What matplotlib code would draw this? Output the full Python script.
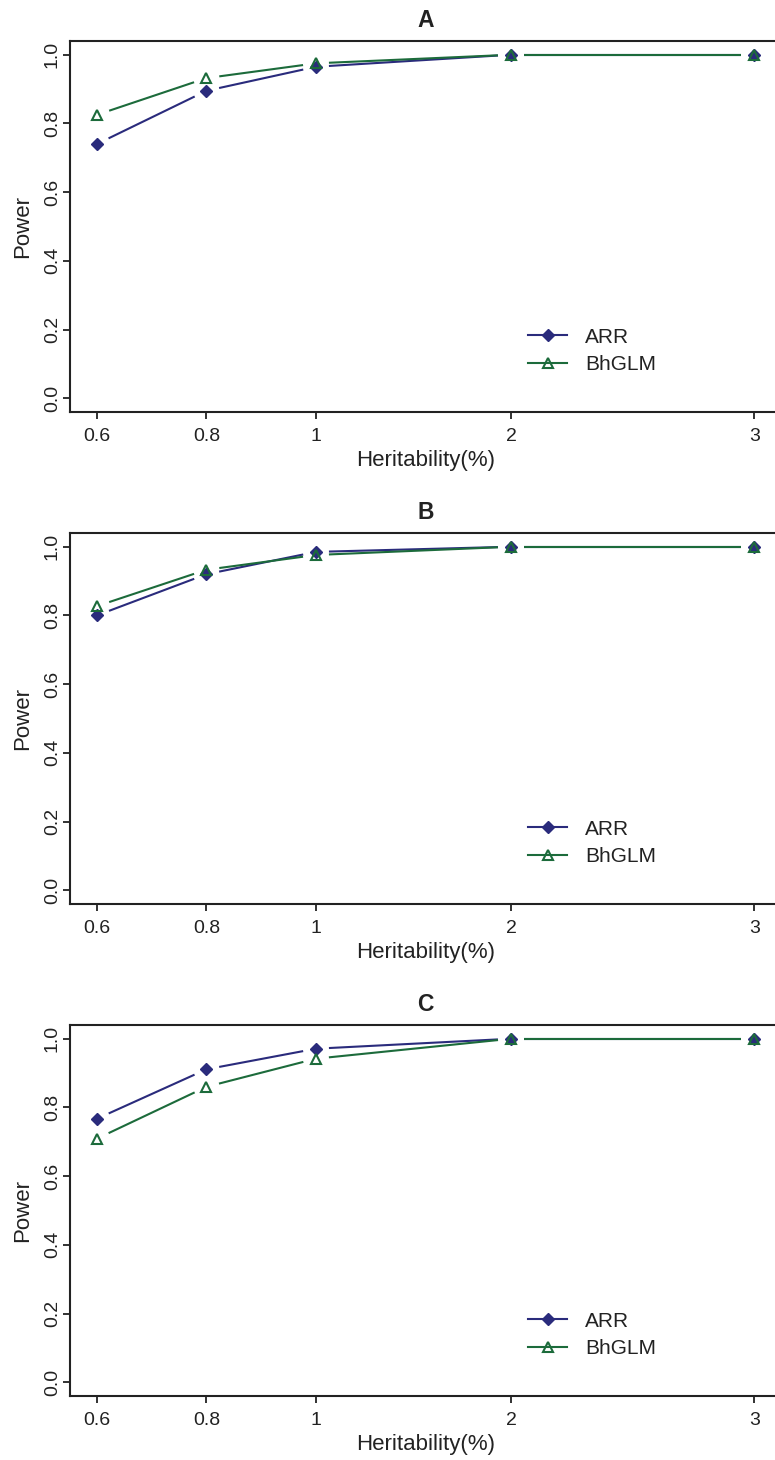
import numpy as np
import matplotlib
matplotlib.use('Agg')
import matplotlib.pyplot as plt
from matplotlib.lines import Line2D

plt.rcParams['font.family'] = ['Liberation Sans', 'DejaVu Sans']

# x axis categories (heritability, %) and their slot on the axis
heritability = ['0.6', '0.8', '1', '2', '3']
x_slots = [0, 1, 2, 3.78, 6]

panels = ['A', 'B', 'C']
arr_a = [0.740, 0.895, 0.965, 1.0, 1.0]
bhglm_a = [0.825, 0.932, 0.975, 1.0, 1.0]
arr_b = [0.800, 0.920, 0.985, 1.0, 1.0]
bhglm_b = [0.827, 0.933, 0.976, 1.0, 1.0]
arr_c = [0.767, 0.911, 0.971, 1.0, 1.0]
bhglm_c = [0.709, 0.860, 0.942, 1.0, 1.0]

ARR_COL = '#2a2b7c'
BH_COL = '#1c6b3b'
GAP = 13  # px, like R type="b"
W, H = 775, 1460


def gapped_line(ax, x, y, color):
    # draw segments between points leaving a gap around each point
    pts = ax.transData.transform(np.column_stack([x, y]))
    inv = ax.transData.inverted()
    for i in range(len(pts) - 1):
        p0, p1 = pts[i], pts[i + 1]
        d = p1 - p0
        L = np.hypot(*d)
        if L <= 2 * GAP:
            continue
        u = d / L
        seg = inv.transform([p0 + u * GAP, p1 - u * GAP])
        ax.plot(seg[:, 0], seg[:, 1], color=color, lw=1.5,
                solid_capstyle='butt', zorder=2)


fig = plt.figure(figsize=(W / 100, H / 100), dpi=100)

tops = [41, 533, 1025]
series = [(arr_a, bhglm_a), (arr_b, bhglm_b), (arr_c, bhglm_c)]

for name, top, (arr, bh) in zip(panels, tops, series):
    h = 371
    ax = fig.add_axes([70 / W, (H - top - h) / H, 711 / W, h / H])
    ax.set_xlim(-0.245, 6.245)
    ax.set_ylim(-0.04, 1.04)

    gapped_line(ax, x_slots, arr, ARR_COL)
    ax.plot(x_slots, arr, ls='none', marker='D', ms=6.6, color=ARR_COL,
            zorder=3)
    gapped_line(ax, x_slots, bh, BH_COL)
    ax.plot(x_slots, bh, ls='none', marker='^', ms=6.8, mfc='none',
            mec=BH_COL, mew=1.5, zorder=4)

    ax.set_xticks(x_slots)
    ax.set_xticklabels(heritability)
    ax.set_yticks([0, 0.2, 0.4, 0.6, 0.8, 1.0])
    ax.set_yticklabels(['0.0', '0.2', '0.4', '0.6', '0.8', '1.0'],
                       rotation=90, va='center')
    ax.tick_params(axis='both', direction='out', length=5, width=1.3,
                   labelsize=14, colors='#222222')
    ax.tick_params(axis='x', pad=6.5)
    ax.tick_params(axis='y', pad=1.5)
    for sp in ax.spines.values():
        sp.set_linewidth(1.5)
        sp.set_color('#222222')

    ax.set_xlabel('Heritability(%)', fontsize=16, color='#222222')
    ax.xaxis.set_label_coords(0.5, -0.103)
    ax.set_ylabel('Power', fontsize=16, color='#222222')
    ax.yaxis.set_label_coords(-0.052, 0.5)
    ax.set_title(name, fontsize=16.5, fontweight='bold', pad=10,
                 color='#222222')

    handles = [
        Line2D([], [], color=ARR_COL, lw=1.5, marker='D', ms=6.6),
        Line2D([], [], color=BH_COL, lw=1.5, marker='^', ms=6.8,
               mfc='none', mec=BH_COL, mew=1.5),
    ]
    ax.legend(handles, ['ARR', 'BhGLM'], loc='center left',
              bbox_to_anchor=(0.644, 0.165), frameon=False, fontsize=15,
              handlelength=1.9, handletextpad=0.85, labelspacing=0.4,
              borderpad=0, borderaxespad=0, labelcolor='#222222')

fig.savefig('out.png', dpi=100)
